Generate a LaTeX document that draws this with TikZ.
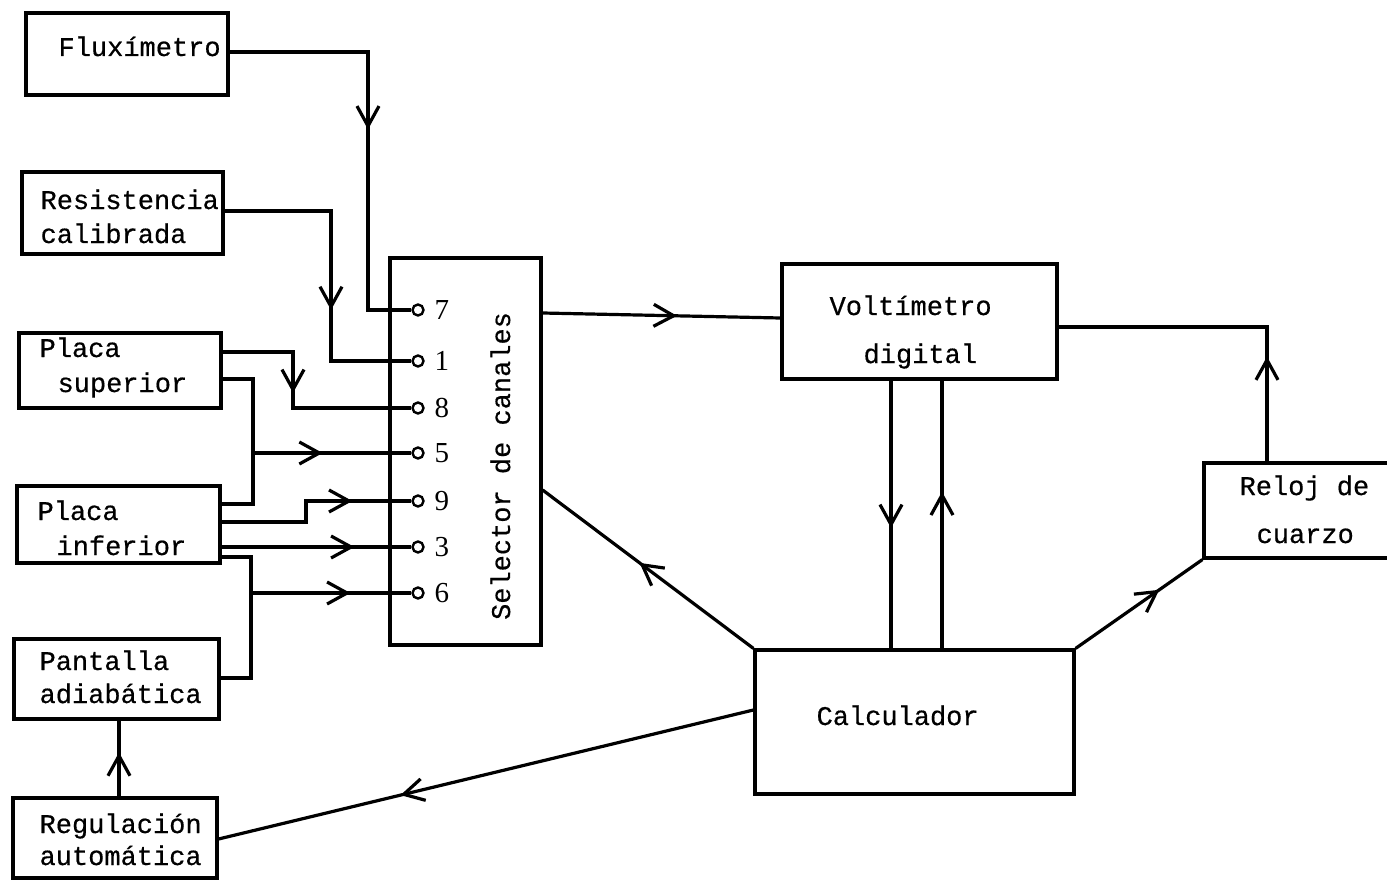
\documentclass[tikz,border=0pt]{standalone}
\usepackage{fontspec}
\newfontfamily\lblfont{Liberation Mono}[FakeBold=0.5]
\newfontfamily\numfont{Liberation Serif}
\usetikzlibrary{arrows.meta,decorations.markings}
\begin{document}
\begin{tikzpicture}[x=1pt,y=-1pt,
  line width=3.2pt, line join=miter,
  box/.style={draw, rectangle, inner sep=0pt, line width=3.2pt},
  lbl/.style={inner sep=0pt, anchor=base west, font=\lblfont\fontsize{27}{30}\selectfont},
  num/.style={inner sep=0pt, anchor=base west, font=\numfont\fontsize{29}{30}\selectfont},
  term/.style={draw, circle, minimum size=11pt, inner sep=0pt, line width=2.4pt, fill=white},
  midarr/.style={postaction={decorate, decoration={markings,
     mark=at position #1 with {\arrow{Straight Barb[length=20pt,width=22pt,line width=3.2pt]}}}}},
]
\useasboundingbox (0,0) rectangle (1387,880);

% boxes
\node[box, minimum width=202pt, minimum height=82pt] (flux)  at (127,54) {};
\node[box, minimum width=201pt, minimum height=82pt] (resis) at (122.5,213) {};
\node[box, minimum width=202pt, minimum height=75pt] (psup)  at (120,370.5) {};
\node[box, minimum width=203pt, minimum height=77pt] (pinf)  at (118.5,524.5) {};
\node[box, minimum width=205pt, minimum height=80pt] (pant)  at (116.5,679) {};
\node[box, minimum width=204pt, minimum height=80pt] (regu)  at (115,838) {};
\node[box, minimum width=151pt, minimum height=387pt] (sel)  at (465.5,451.5) {};
\node[box, minimum width=275pt, minimum height=115pt] (volt) at (919.5,321.5) {};
\node[box, minimum width=319pt, minimum height=144pt] (calc) at (914.5,722) {};
\node[box, minimum width=196pt, minimum height=95pt] (reloj) at (1302,510.5) {};

% texts
\node[lbl] (tflux) at (57,56) {Fluxímetro};
\node[lbl] (tres1) at (39,209) {Resistencia};
\node[lbl] (tres2) at (39,243) {calibrada};
\node[lbl] (tps1) at (38,357) {Placa};
\node[lbl] (tps2) at (56,392) {superior};
\node[lbl] (tpi1) at (36,520) {Placa};
\node[lbl] (tpi2) at (55,555) {inferior};
\node[lbl] (tpa1) at (38,670) {Pantalla};
\node[lbl] (tpa2) at (38,703) {adiabática};
\node[lbl] (tre1) at (38,833) {Regulación};
\node[lbl] (tre2) at (38,865) {automática};
\node[lbl] (tvo1) at (828,315) {Voltímetro};
\node[lbl] (tvo2) at (862,363) {digital};
\node[lbl] (tcal) at (815,725) {Calculador};
\node[lbl] (trl1) at (1238,495) {Reloj de};
\node[lbl] (trl2) at (1255,543) {cuarzo};
\node[inner sep=0pt, anchor=base, rotate=90, font=\lblfont\fontsize{27}{30}\selectfont] (tsel) at (510,466) {Selector de canales};

% terminals
\foreach \n/\y in {7/310,1/361,8/408,5/453,9/501,3/547,6/593} {
  \node[term] (t\n) at (418,\y) {};
  \node[num] (n\n) at (433,\y+9) {\n};
}

% helper coordinates
\coordinate (fa) at (368,52);
\coordinate (rb) at (331,211);
\coordinate (pa) at (293,352);
\coordinate (pb) at (253,379);
\coordinate (pc) at (253,504);
\coordinate (pd) at (306,522);
\coordinate (pe) at (251,557);
\coordinate (pf) at (251,678);
\coordinate (ra) at (119,760);
\coordinate (ya) at (0,313);
\coordinate (yb) at (0,318);
\coordinate (yc) at (0,490);
\coordinate (xa) at (891,0);
\coordinate (xb) at (942,0);
\coordinate (va) at (1267,327);
\coordinate (yd) at (0,710);
\coordinate (ye) at (0,839);

% connectors
\draw (flux.east |- fa) -- (fa) -- (fa |- t7) -- (t7.west);
\draw[midarr=0.30] (fa) -- (fa |- t7);

\draw (resis.east |- rb) -- (rb) -- (rb |- t1) -- (t1.west);
\draw[midarr=0.66] (rb) -- (rb |- t1);

\draw (psup.east |- pa) -- (pa) -- (pa |- t8) -- (t8.west);
\draw[midarr=0.73] (pa) -- (pa |- t8);

\draw (psup.east |- pb) -- (pb) -- (pc) -- (pinf.east |- pc);
\draw[midarr=0.44] (pb |- t5) -- (t5.west);

\draw (pinf.east |- pd) -- (pd) -- (pd |- t9) -- (t9.west);
\draw[midarr=0.44] (pd |- t9) -- (t9.west);

\draw[midarr=0.70] (pinf.east |- t3) -- (t3.west);

\draw (pinf.east |- pe) -- (pe) -- (pf) -- (pant.east |- pf);
\draw[midarr=0.62] (pe |- t6) -- (t6.west);

\draw[midarr=0.58] (regu.north -| ra) -- (pant.south -| ra);

\draw[midarr=0.565] (sel.east |- ya) -- (volt.west |- yb);
\draw[midarr=0.54] (calc.north west) -- (sel.east |- yc);
\draw[midarr=0.55] (volt.south -| xa) -- (calc.north -| xa);
\draw[midarr=0.585] (calc.north -| xb) -- (volt.south -| xb);
\draw[midarr=0.66] (calc.north east) -- (reloj.south west);
\draw (reloj.north -| va) -- (va) -- (volt.east |- va);
\draw[midarr=0.78] (reloj.north -| va) -- (va);
\draw[midarr=0.66] (calc.west |- yd) -- (regu.east |- ye);

\end{tikzpicture}
\end{document}
